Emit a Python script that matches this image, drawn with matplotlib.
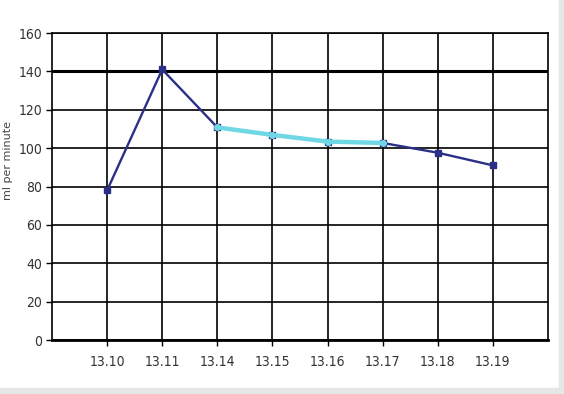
import matplotlib
matplotlib.use("Agg")
import matplotlib.pyplot as plt
from matplotlib.patches import Rectangle

# Flow readings by time
times = ["13.10", "13.11", "13.14", "13.15", "13.16", "13.17", "13.18", "13.19"]
flow = [78, 141, 110.8, 106.9, 103.4, 102.7, 97.6, 91]
# Highlighted stretch (indices into the series above)
highlight_start, highlight_end = 2, 5
y_ticks = [0, 20, 40, 60, 80, 100, 120, 140, 160]

navy = "#2b2f86"
cyan = "#6fd8e4"
tick_font = ["DejaVu Sans Condensed", "Liberation Sans Narrow", "DejaVu Sans"]

fig = plt.figure(figsize=(5.64, 3.94), dpi=100)
fig.patch.set_facecolor("white")
# light frame along the bottom and right edges
fig.add_artist(Rectangle((0, 0), 1, 6 / 394, transform=fig.transFigure,
                         color="#e6e6e6", zorder=0))
fig.add_artist(Rectangle((1 - 5 / 564, 0), 5 / 564, 1, transform=fig.transFigure,
                         color="#e6e6e6", zorder=0))

ax = fig.add_axes([52 / 564, 1 - 340 / 394, 496 / 564, 307 / 394])
x = list(range(len(times)))

ax.set_xlim(-1, len(times))
ax.set_ylim(0, 160)
ax.set_yticks(y_ticks)
ax.set_xticks(x)
ax.set_xticklabels(times)

ax.grid(True, color="black", linewidth=1.2)
ax.axhline(140, color="black", linewidth=2.2, zorder=1)
ax.set_axisbelow(True)

for side in ["top", "right", "left"]:
    ax.spines[side].set_linewidth(1.2)
ax.spines["bottom"].set_linewidth(2)

ax.plot(x, flow, color=navy, linewidth=1.7, marker="s", markersize=4.5,
        markerfacecolor=navy, markeredgecolor=navy, zorder=3)
hx = x[highlight_start:highlight_end + 1]
hy = flow[highlight_start:highlight_end + 1]
ax.plot(hx, hy, color=cyan, linewidth=3.2, marker="o", markersize=4,
        markerfacecolor=cyan, markeredgecolor=cyan, zorder=4)

ax.tick_params(axis="both", length=4, width=1, color="black",
               labelsize=10, labelcolor="#333333")
ax.tick_params(axis="x", pad=7)
ax.tick_params(axis="y", pad=3)
for lbl in ax.get_xticklabels() + ax.get_yticklabels():
    lbl.set_family(tick_font)
    lbl.set_fontstretch("condensed")

ax.set_ylabel("ml per minute", fontsize=8, color="#444444",
              family=["DejaVu Sans"])
ax.yaxis.set_label_coords((13 - 52) / 496, (340 - 160) / 307)

fig.savefig("out.png", dpi=100)
